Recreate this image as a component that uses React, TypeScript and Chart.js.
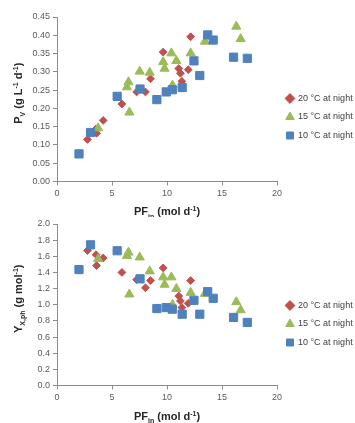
import React, { useEffect, useRef } from "react";
import { Chart, registerables } from "chart.js";

Chart.register(...registerables);

// ---- Data ----
const seriesLabels = ["20 °C at night", "15 °C at night", "10 °C at night"];

// 20 °C at night (red diamonds)
const pf20 = [2.77, 3.55, 3.6, 4.2, 5.9, 7.24, 8.04, 8.5, 9.65, 11.07, 11.22, 11.35, 11.93, 12.15];
const pv20 = [0.115, 0.144, 0.132, 0.167, 0.212, 0.245, 0.245, 0.281, 0.354, 0.309, 0.296, 0.274, 0.306, 0.396];
const yx20 = [1.672, 1.62, 1.485, 1.579, 1.4, 1.31, 1.21, 1.3, 1.456, 1.108, 1.047, 0.965, 1.018, 1.3];

// 15 °C at night (green triangles)
const pf15 = [3.74, 6.36, 6.5, 6.58, 7.52, 8.43, 9.65, 9.78, 10.4, 10.5, 10.85, 12.15, 13.45, 16.3, 16.7];
const pv15 = [0.146, 0.258, 0.272, 0.189, 0.301, 0.298, 0.327, 0.309, 0.351, 0.263, 0.33, 0.351, 0.383, 0.424, 0.39];
const yx15 = [1.567, 1.607, 1.648, 1.129, 1.587, 1.415, 1.341, 1.25, 1.341, 1.0, 1.198, 1.15, 1.137, 1.034, 0.933];

// 10 °C at night (blue squares)
const pf10 = [2.0, 3.05, 5.47, 7.55, 9.08, 9.93, 10.48, 11.38, 12.45, 12.98, 13.7, 14.2, 16.05, 17.3];
const pv10 = [0.0755, 0.134, 0.233, 0.253, 0.224, 0.245, 0.251, 0.257, 0.33, 0.29, 0.401, 0.387, 0.34, 0.337];
const yx10 = [1.436, 1.742, 1.669, 1.321, 0.953, 0.965, 0.945, 0.883, 1.055, 0.883, 1.162, 1.08, 0.843, 0.781];

// Axis ranges / ticks
const xRange = [0, 20];
const xStep = 5;
const pvRange = [0, 0.45];
const pvStep = 0.05;
const yxRange = [0, 2.0];
const yxStep = 0.2;

// ---- Styles ----
const RED = "#C0504D";
const GREEN = "#9BBB59";
const BLUE = "#4F81BD";
const AXIS = "#8C8C8C";
const TICK = "#595959";
const FONT = "'Liberation Sans', Arial, sans-serif";

type Seg = { t: string; k?: "sub" | "sup" };

const xTitle: Seg[] = [
  { t: "PF" },
  { t: "in", k: "sub" },
  { t: " (mol d" },
  { t: "-1", k: "sup" },
  { t: ")" },
];
const pvTitle: Seg[] = [
  { t: "P" },
  { t: "V", k: "sub" },
  { t: " (g L" },
  { t: "-1", k: "sup" },
  { t: " d" },
  { t: "-1", k: "sup" },
  { t: ")" },
];
const yxTitle: Seg[] = [
  { t: "Y" },
  { t: "X,ph", k: "sub" },
  { t: " (g mol" },
  { t: "-1", k: "sup" },
  { t: ")" },
];

function drawRich(ctx: CanvasRenderingContext2D, segs: Seg[], cx: number, cy: number, rot: number, size: number) {
  const small = Math.round(size * 0.68);
  ctx.save();
  ctx.translate(cx, cy);
  ctx.rotate(rot);
  ctx.fillStyle = "#262626";
  ctx.textBaseline = "alphabetic";
  ctx.textAlign = "left";
  const widths = segs.map((s) => {
    ctx.font = `bold ${s.k ? small : size}px ${FONT}`;
    return ctx.measureText(s.t).width;
  });
  const total = widths.reduce((a, b) => a + b, 0);
  let x = -total / 2;
  const base = size * 0.36;
  segs.forEach((s, i) => {
    ctx.font = `bold ${s.k ? small : size}px ${FONT}`;
    const dy = s.k === "sub" ? size * 0.28 : s.k === "sup" ? -size * 0.38 : 0;
    ctx.fillText(s.t, x, base + dy);
    x += widths[i];
  });
  ctx.restore();
}

const richTitles = {
  id: "richTitles",
  afterDraw(chart: any, _args: any, opts: any) {
    const { ctx, chartArea } = chart;
    drawRich(ctx, opts.x, (chartArea.left + chartArea.right) / 2, chartArea.bottom + opts.xOffset, 0, 11);
    drawRich(ctx, opts.y, opts.yX, (chartArea.top + chartArea.bottom) / 2 - 6, -Math.PI / 2, 11);
  },
};

function pts(xs: number[], ys: number[]) {
  return xs.map((x, i) => ({ x, y: ys[i] }));
}

type PanelProps = {
  top: number;
  height: number;
  padTop: number;
  padBottom: number;
  xHeight: number;
  xTitleOffset: number;
  yVals: [number[], number[], number[]];
  yRange: number[];
  yStep: number;
  decimals: number;
  yTitle: Seg[];
};

function Panel(p: PanelProps) {
  const ref = useRef<HTMLCanvasElement | null>(null);
  useEffect(() => {
    if (!ref.current) return;
    const common = { borderWidth: 1, showLine: false };
    const chart = new Chart(ref.current, {
      type: "scatter",
      data: {
        datasets: [
          {
            ...common,
            label: seriesLabels[0],
            data: pts(pf20, p.yVals[0]),
            pointStyle: "rectRot",
            pointRadius: 3.9,
            backgroundColor: RED,
            borderColor: RED,
            order: 3,
          },
          {
            ...common,
            label: seriesLabels[1],
            data: pts(pf15, p.yVals[1]),
            pointStyle: "triangle",
            pointRadius: 5.3,
            backgroundColor: GREEN,
            borderColor: GREEN,
            order: 2,
          },
          {
            ...common,
            label: seriesLabels[2],
            data: pts(pf10, p.yVals[2]),
            pointStyle: "rect",
            pointRadius: 5.8,
            backgroundColor: BLUE,
            borderColor: BLUE,
            order: 1,
          },
        ] as any,
      },
      options: {
        responsive: false,
        animation: false,
        events: [],
        layout: { padding: { top: p.padTop, bottom: p.padBottom, left: 0, right: 0 } },
        plugins: {
          tooltip: { enabled: false },
          title: { display: false },
          legend: {
            display: true,
            position: "right",
            align: "center",
            maxWidth: 78,
            labels: {
              usePointStyle: true,
              boxWidth: 7,
              boxHeight: 7,
              padding: 9.5,
              color: "#404040",
              font: { family: FONT, size: 9 },
              sort: (a: any, b: any) => a.datasetIndex - b.datasetIndex,
            },
          },
          richTitles: { x: xTitle, y: p.yTitle, xOffset: p.xTitleOffset, yX: 18 },
        } as any,
        scales: {
          x: {
            type: "linear",
            min: xRange[0],
            max: xRange[1],
            ticks: { stepSize: xStep, color: TICK, font: { family: FONT, size: 9 }, padding: 3 },
            grid: { display: true, drawOnChartArea: false, drawTicks: true, tickLength: 4, color: AXIS },
            border: { display: true, color: AXIS, width: 1 },
            afterFit: (s: any) => {
              s.height = p.xHeight;
            },
          },
          y: {
            type: "linear",
            min: p.yRange[0],
            max: p.yRange[1],
            ticks: {
              stepSize: p.yStep,
              color: TICK,
              font: { family: FONT, size: 9 },
              padding: 3,
              callback: (v: any) => Number(v).toFixed(p.decimals),
            },
            grid: { display: true, drawOnChartArea: false, drawTicks: true, tickLength: 4, color: AXIS },
            border: { display: true, color: AXIS, width: 1 },
            afterFit: (s: any) => {
              s.width = 57;
            },
          },
        },
      } as any,
      plugins: [richTitles as any],
    });
    return () => chart.destroy();
  }, []);
  return (
    <canvas
      ref={ref}
      width={355}
      height={p.height}
      style={{ position: "absolute", left: 0, top: p.top, width: 355, height: p.height }}
    />
  );
}

export default function App() {
  return (
    <div
      style={{
        position: "absolute",
        left: 0,
        top: 0,
        width: 355,
        height: 423,
        overflow: "hidden",
        background: "#ffffff",
      }}
    >
      <Panel
        top={0}
        height={217}
        padTop={17}
        padBottom={0}
        xHeight={35.5}
        xTitleOffset={30}
        yVals={[pv20, pv15, pv10]}
        yRange={pvRange}
        yStep={pvStep}
        decimals={2}
        yTitle={pvTitle}
      />
      <Panel
        top={200}
        height={224}
        padTop={24}
        padBottom={0}
        xHeight={38.5}
        xTitleOffset={30.5}
        yVals={[yx20, yx15, yx10]}
        yRange={yxRange}
        yStep={yxStep}
        decimals={1}
        yTitle={yxTitle}
      />
    </div>
  );
}
